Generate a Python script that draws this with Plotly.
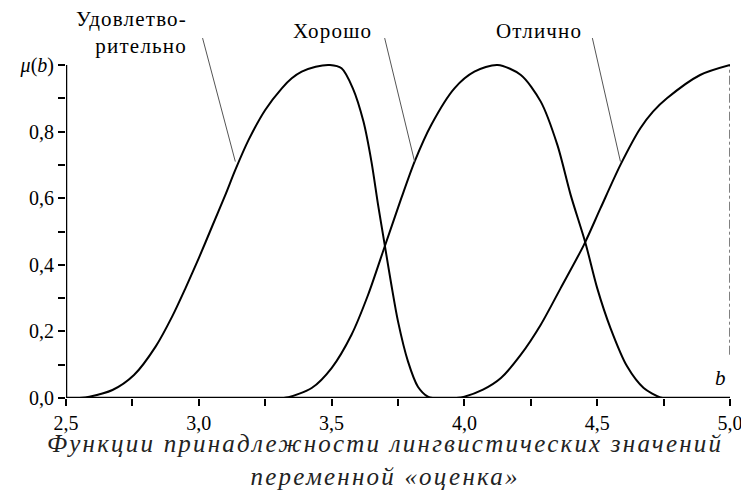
import plotly.graph_objects as go

# membership functions
b_udovl = [2.55, 2.588, 2.675, 2.756, 2.838, 2.90, 2.95, 3.0, 3.05, 3.10, 3.1375, 3.1875, 3.25, 3.3125,
           3.35, 3.3875, 3.44, 3.494, 3.5375, 3.58, 3.62, 3.65, 3.675, 3.70, 3.725, 3.75, 3.7875, 3.825,
           3.8625, 3.88]
mu_udovl = [0, 0.004, 0.024, 0.069, 0.155, 0.245, 0.33, 0.42, 0.515, 0.61, 0.685, 0.775, 0.865, 0.93,
            0.96, 0.98, 0.995, 1.0, 0.99, 0.93, 0.83, 0.71, 0.58, 0.46, 0.34, 0.23, 0.11, 0.034,
            0.004, 0]

b_khor = [3.32, 3.3375, 3.425, 3.50, 3.575, 3.6375, 3.70, 3.7625, 3.8125, 3.875, 3.9625, 4.0375, 4.125,
          4.2125, 4.2875, 4.35, 4.40, 4.456, 4.50, 4.55, 4.6125, 4.675, 4.7375, 4.76]
mu_khor = [0, 0.002, 0.03, 0.09, 0.19, 0.31, 0.455, 0.60, 0.71, 0.82, 0.93, 0.98, 1.0,
           0.97, 0.89, 0.76, 0.61, 0.465, 0.33, 0.21, 0.095, 0.03, 0.002, 0]

b_otl = [3.97, 4.0, 4.07, 4.1375, 4.2125, 4.2875, 4.3625, 4.45, 4.5125, 4.5875, 4.6625, 4.71, 4.7625,
         4.8875, 5.0]
mu_otl = [0, 0.004, 0.025, 0.06, 0.13, 0.22, 0.33, 0.46, 0.57, 0.70, 0.81, 0.86, 0.90, 0.97, 1.0]

# dash-dot guide at the right end
b_guide = [5.0, 5.0]
mu_guide = [0.13, 1.0]

x_ticks = [2.5, 2.75, 3.0, 3.25, 3.5, 3.75, 4.0, 4.25, 4.5, 4.75, 5.0]
x_labels = ["2,5", "", "3,0", "", "3,5", "", "4,0", "", "4,5", "", "5,0"]
y_ticks = [0, 0.1, 0.2, 0.3, 0.4, 0.5, 0.6, 0.7, 0.8, 0.9, 1.0]
y_labels = ["0,0", "", "0,2", "", "0,4", "", "0,6", "", "0,8", "", "<i>μ</i>(<i>b</i>)"]

# term labels and the point on the curve where each leader line ends
term_names = ["Удовлетво-<br>рительно", "Хорошо", "Отлично"]
leader_b = [3.1375, 3.8125, 4.5875]
leader_mu = [0.71, 0.71, 0.71]

SERIF = "Liberation Serif"

# page is drawn with an 8px body margin, so shift everything back
OFF = 8
W, H = 749, 497
L, R, T, B = 63 - OFF, 19 + OFF, 60 - OFF, 99 + OFF
pw, ph = W - L - R, H - T - B


def px(xp, yp):
    # screen pixel -> paper coords
    return (xp - OFF - L) / pw, (H - B - (yp - OFF)) / ph


fig = go.Figure()
for bx, my in [(b_udovl, mu_udovl), (b_khor, mu_khor), (b_otl, mu_otl)]:
    fig.add_trace(go.Scatter(x=bx, y=my, mode="lines",
                             line=dict(color="black", width=2, shape="spline", smoothing=0.8),
                             showlegend=False, hoverinfo="skip"))
fig.add_trace(go.Scatter(x=b_guide, y=mu_guide, mode="lines",
                         line=dict(color="black", width=1, dash="dashdot"),
                         showlegend=False, hoverinfo="skip"))

# axis lines drawn as shapes so they stop exactly at 1.0 / 5.0
fig.add_shape(type="line", x0=2.5, x1=5.0, y0=0, y1=0, line=dict(color="black", width=2.5), layer="above")
fig.add_shape(type="line", x0=2.5, x1=2.5, y0=0, y1=1.0, line=dict(color="black", width=2.5), layer="above")

# leader lines
offsets = [(-35, -132), (-32, -132), (-30, -132)]
for bx, my, (ax, ay) in zip(leader_b, leader_mu, offsets):
    fig.add_annotation(x=bx, y=my, text=" ", showarrow=True, arrowhead=0, arrowwidth=1,
                       arrowcolor="#555", ax=ax, ay=ay, standoff=0, startstandoff=0)

label_pos = [(187, 33, "right"), (331, 31, "center"), (538, 31, "center")]
for name, (xp, yp, anchor) in zip(term_names, label_pos):
    lx, ly = px(xp, yp)
    fig.add_annotation(x=lx, y=ly, xref="paper", yref="paper", xanchor=anchor, yanchor="middle",
                       align="right", text=f"<span style='letter-spacing:1.2px'>{name}</span>",
                       showarrow=False, font=dict(family=SERIF, size=21, color="black"))

# axis name b
fig.add_annotation(x=5.0, y=0.06, xanchor="right", yanchor="middle", text="<i>b</i>", showarrow=False,
                   xshift=-2, font=dict(family=SERIF, size=21, color="black"))

# caption
lx, ly = px(383, 460)
fig.add_annotation(x=lx, y=ly, xref="paper", yref="paper", xanchor="center", yanchor="middle",
                   text="<span style='letter-spacing:2.2px'><i>Функции принадлежности лингвистических значений"
                        "<br>переменной «оценка»</i></span>",
                   showarrow=False, font=dict(family=SERIF, size=25, color="#222"))

fig.update_xaxes(range=[2.5, 5.0], tickvals=x_ticks, ticktext=x_labels, ticks="outside", ticklen=7,
                 tickwidth=2, tickcolor="black", showline=False, showgrid=False, zeroline=False,
                 tickfont=dict(family=SERIF, size=20, color="black"))
fig.update_yaxes(range=[0, 1.015], tickvals=y_ticks, ticktext=y_labels, ticks="outside", ticklen=7,
                 tickwidth=2, tickcolor="black", showline=False, showgrid=False, zeroline=False,
                 tickfont=dict(family=SERIF, size=20, color="black"))

fig.update_layout(width=W, height=H, margin=dict(l=L, r=R, t=T, b=B),
                  font=dict(family=SERIF),
                  plot_bgcolor="white", paper_bgcolor="white")

fig.write_html("out.html")
